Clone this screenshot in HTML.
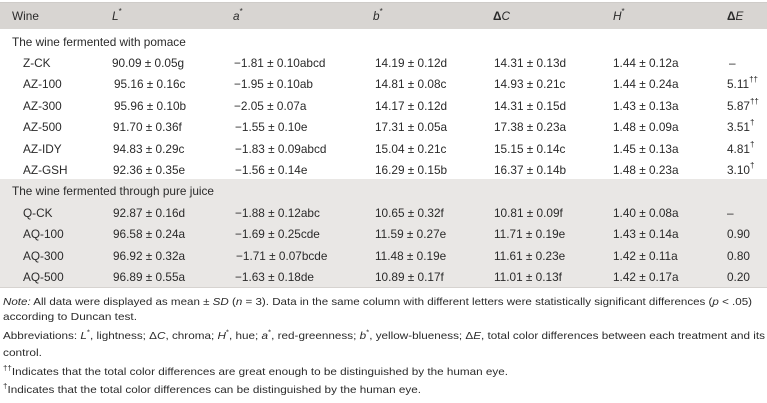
<!DOCTYPE html>
<html>
<head>
<meta charset="utf-8">
<style>
  html,body{margin:0;padding:0;background:#fff;}
  body{width:767px;height:403px;position:relative;overflow:hidden;
    font-family:"Liberation Sans",Arial,sans-serif;color:#2a2a2a;}
  .hdr{position:absolute;left:0;top:2px;width:767px;height:27px;background:#d8d5d2;border-top:1px solid #cfccc9;box-sizing:border-box;}
  .sec{position:absolute;left:0;top:179px;width:767px;height:109px;background:#e9e7e5;border-bottom:1px solid #d6d3d0;box-sizing:border-box;}
  .t{position:absolute;font-size:11.8px;line-height:14px;white-space:nowrap;}
  .t sup{font-size:8px;line-height:0;position:relative;top:-1px;}
  .n{position:absolute;left:3px;font-size:10.3px;line-height:13px;white-space:nowrap;transform-origin:0 50%;}
  .n sup{font-size:7px;line-height:0;}
  i{font-style:italic;}
</style>
</head>
<body>
<div class="hdr"></div>
<div class="sec"></div>

<!-- header -->
<div class="t" style="left:12px;top:8.5px">Wine</div>
<div class="t" style="left:112px;top:8.5px"><i>L</i><sup>*</sup></div>
<div class="t" style="left:233px;top:8.5px"><i>a</i><sup>*</sup></div>
<div class="t" style="left:373px;top:8.5px"><i>b</i><sup>*</sup></div>
<div class="t" style="left:493px;top:8.5px"><b>Δ</b><i>C</i></div>
<div class="t" style="left:613px;top:8.5px"><i>H</i><sup>*</sup></div>
<div class="t" style="left:727px;top:8.5px"><b>Δ</b><i>E</i></div>

<div class="t" style="left:12px;top:34.5px">The wine fermented with pomace</div>

<!-- row Z-CK -->
<div class="t" style="left:23px;top:55.9px">Z-CK</div>
<div class="t" style="left:112px;top:55.9px">90.09 ± 0.05g</div>
<div class="t" style="left:234px;top:55.9px">−1.81 ± 0.10abcd</div>
<div class="t" style="left:375px;top:55.9px">14.19 ± 0.12d</div>
<div class="t" style="left:494px;top:55.9px">14.31 ± 0.13d</div>
<div class="t" style="left:613px;top:55.9px">1.44 ± 0.12a</div>
<div class="t" style="left:729px;top:55.9px">–</div>

<div class="t" style="left:23px;top:77.3px">AZ-100</div>
<div class="t" style="left:114px;top:77.3px">95.16 ± 0.16c</div>
<div class="t" style="left:234px;top:77.3px">−1.95 ± 0.10ab</div>
<div class="t" style="left:375px;top:77.3px">14.81 ± 0.08c</div>
<div class="t" style="left:494px;top:77.3px">14.93 ± 0.21c</div>
<div class="t" style="left:613px;top:77.3px">1.44 ± 0.24a</div>
<div class="t" style="left:727px;top:77.3px">5.11<sup>††</sup></div>

<div class="t" style="left:23px;top:98.7px">AZ-300</div>
<div class="t" style="left:114px;top:98.7px">95.96 ± 0.10b</div>
<div class="t" style="left:234px;top:98.7px">−2.05 ± 0.07a</div>
<div class="t" style="left:375px;top:98.7px">14.17 ± 0.12d</div>
<div class="t" style="left:494px;top:98.7px">14.31 ± 0.15d</div>
<div class="t" style="left:613px;top:98.7px">1.43 ± 0.13a</div>
<div class="t" style="left:727px;top:98.7px">5.87<sup>††</sup></div>

<div class="t" style="left:23px;top:120.1px">AZ-500</div>
<div class="t" style="left:113px;top:120.1px">91.70 ± 0.36f</div>
<div class="t" style="left:235px;top:120.1px">−1.55 ± 0.10e</div>
<div class="t" style="left:375px;top:120.1px">17.31 ± 0.05a</div>
<div class="t" style="left:494px;top:120.1px">17.38 ± 0.23a</div>
<div class="t" style="left:613px;top:120.1px">1.48 ± 0.09a</div>
<div class="t" style="left:727px;top:120.1px">3.51<sup>†</sup></div>

<div class="t" style="left:23px;top:141.5px">AZ-IDY</div>
<div class="t" style="left:113px;top:141.5px">94.83 ± 0.29c</div>
<div class="t" style="left:235px;top:141.5px">−1.83 ± 0.09abcd</div>
<div class="t" style="left:375px;top:141.5px">15.04 ± 0.21c</div>
<div class="t" style="left:494px;top:141.5px">15.15 ± 0.14c</div>
<div class="t" style="left:613px;top:141.5px">1.45 ± 0.13a</div>
<div class="t" style="left:727px;top:141.5px">4.81<sup>†</sup></div>

<div class="t" style="left:23px;top:162.9px">AZ-GSH</div>
<div class="t" style="left:113px;top:162.9px">92.36 ± 0.35e</div>
<div class="t" style="left:235px;top:162.9px">−1.56 ± 0.14e</div>
<div class="t" style="left:375px;top:162.9px">16.29 ± 0.15b</div>
<div class="t" style="left:494px;top:162.9px">16.37 ± 0.14b</div>
<div class="t" style="left:613px;top:162.9px">1.48 ± 0.23a</div>
<div class="t" style="left:727px;top:162.9px">3.10<sup>†</sup></div>

<div class="t" style="left:12px;top:184.3px">The wine fermented through pure juice</div>

<div class="t" style="left:23px;top:205.7px">Q-CK</div>
<div class="t" style="left:113px;top:205.7px">92.87 ± 0.16d</div>
<div class="t" style="left:235px;top:205.7px">−1.88 ± 0.12abc</div>
<div class="t" style="left:375px;top:205.7px">10.65 ± 0.32f</div>
<div class="t" style="left:494px;top:205.7px">10.81 ± 0.09f</div>
<div class="t" style="left:613px;top:205.7px">1.40 ± 0.08a</div>
<div class="t" style="left:727px;top:205.7px">–</div>

<div class="t" style="left:23px;top:227.1px">AQ-100</div>
<div class="t" style="left:113px;top:227.1px">96.58 ± 0.24a</div>
<div class="t" style="left:235px;top:227.1px">−1.69 ± 0.25cde</div>
<div class="t" style="left:375px;top:227.1px">11.59 ± 0.27e</div>
<div class="t" style="left:494px;top:227.1px">11.71 ± 0.19e</div>
<div class="t" style="left:613px;top:227.1px">1.43 ± 0.14a</div>
<div class="t" style="left:727px;top:227.1px">0.90</div>

<div class="t" style="left:23px;top:248.5px">AQ-300</div>
<div class="t" style="left:113px;top:248.5px">96.92 ± 0.32a</div>
<div class="t" style="left:236px;top:248.5px">−1.71 ± 0.07bcde</div>
<div class="t" style="left:375px;top:248.5px">11.48 ± 0.19e</div>
<div class="t" style="left:494px;top:248.5px">11.61 ± 0.23e</div>
<div class="t" style="left:613px;top:248.5px">1.42 ± 0.11a</div>
<div class="t" style="left:727px;top:248.5px">0.80</div>

<div class="t" style="left:23px;top:269.9px">AQ-500</div>
<div class="t" style="left:113px;top:269.9px">96.89 ± 0.55a</div>
<div class="t" style="left:235px;top:269.9px">−1.63 ± 0.18de</div>
<div class="t" style="left:375px;top:269.9px">10.89 ± 0.17f</div>
<div class="t" style="left:494px;top:269.9px">11.01 ± 0.13f</div>
<div class="t" style="left:613px;top:269.9px">1.42 ± 0.17a</div>
<div class="t" style="left:727px;top:269.9px">0.20</div>

<!-- notes -->
<div class="n" id="n1" style="top:295.5px"><i>Note:</i> All data were displayed as mean ± <i>SD</i> (<i>n</i> = 3). Data in the same column with different letters were statistically significant differences (<i>p</i> &lt; .05)</div>
<div class="n" id="n2" style="top:310.5px">according to Duncan test.</div>
<div class="n" id="n3" style="top:329.5px">Abbreviations: <i>L</i><sup>*</sup>, lightness; Δ<i>C</i>, chroma; <i>H</i><sup>*</sup>, hue; <i>a</i><sup>*</sup>, red-greenness; <i>b</i><sup>*</sup>, yellow-blueness; Δ<i>E</i>, total color differences between each treatment and its</div>
<div class="n" id="n4" style="top:346.5px">control.</div>
<div class="n" id="n5" style="top:365.5px"><sup>††</sup>Indicates that the total color differences are great enough to be distinguished by the human eye.</div>
<div class="n" id="n6" style="top:383.5px"><sup>†</sup>Indicates that the total color differences can be distinguished by the human eye.</div>

<script>
(function(){
  var targets={n1:749,n2:134,n3:762,n4:39,n5:505,n6:418};
  for(var id in targets){
    var el=document.getElementById(id);
    if(!el) continue;
    var w=el.getBoundingClientRect().width;
    if(w>0){el.style.transform='scaleX('+(targets[id]/w)+')';}
  }
})();
</script>
</body>
</html>
